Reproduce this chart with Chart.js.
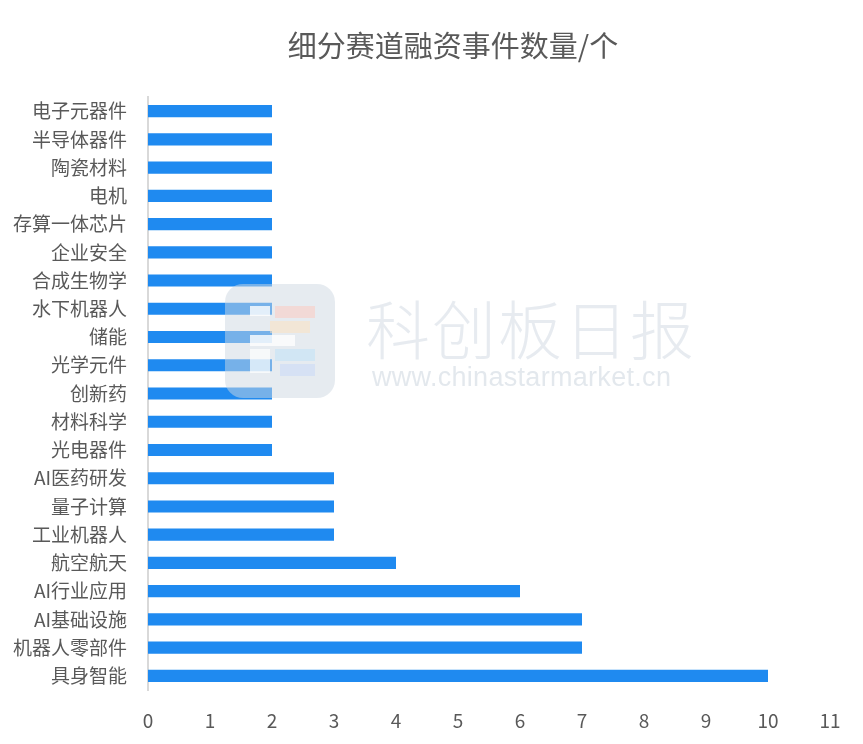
<!DOCTYPE html>
<html>
<head>
<meta charset="utf-8">
<script src="https://cdn.jsdelivr.net/npm/chart.js@4"></script>
<style>
  html, body { margin: 0; padding: 0; background: #fff; }
  #wrap { position: relative; width: 863px; height: 744px; }
  #title {
    position: absolute; left: 0; top: 23px; width: 906px; text-align: center;
    font-family: "Noto Sans CJK SC", sans-serif; font-size: 29px; color: #595959;
  }
  .wm { position: absolute; pointer-events: none; }
  #logo {
    left: 225px; top: 284px; width: 110px; height: 114px; border-radius: 18px;
    background: rgba(205, 215, 225, 0.5);
  }
  .blk { position: absolute; }
  #wmName {
    left: 366px; top: 280px; font-family: "Noto Sans CJK SC", serif; font-weight: 300;
    font-size: 64px; letter-spacing: 2px; color: rgba(215, 222, 230, 0.6);
  }
  #wmUrl {
    left: 372px; top: 362px; font-family: "Liberation Sans", sans-serif;
    font-size: 27px; letter-spacing: 0.3px; color: rgba(215, 222, 230, 0.7);
  }
</style>
</head>
<body>
<div id="wrap">
  <canvas id="chart"></canvas>
  <div id="title">细分赛道融资事件数量/个</div>
  <div class="wm" id="logo">
    <div class="blk" style="left:25px;top:22px;width:20px;height:10px;background:rgba(255,255,255,0.8)"></div>
    <div class="blk" style="left:50px;top:22px;width:40px;height:12px;background:rgba(255,200,190,0.5)"></div>
    <div class="blk" style="left:45px;top:37px;width:40px;height:12px;background:rgba(255,225,190,0.5)"></div>
    <div class="blk" style="left:25px;top:51px;width:45px;height:11px;background:rgba(255,255,255,0.8)"></div>
    <div class="blk" style="left:25px;top:65px;width:20px;height:24px;background:rgba(255,255,255,0.7)"></div>
    <div class="blk" style="left:50px;top:65px;width:40px;height:12px;background:rgba(190,225,250,0.5)"></div>
    <div class="blk" style="left:55px;top:80px;width:35px;height:12px;background:rgba(200,215,250,0.5)"></div>
  </div>
  <div class="wm" id="wmName">科创板日报</div>
  <div class="wm" id="wmUrl">www.chinastarmarket.cn</div>
</div>
<script>
// categories top to bottom, as in the picture
const categories = [
  '电子元器件', '半导体器件', '陶瓷材料', '电机', '存算一体芯片', '企业安全',
  '合成生物学', '水下机器人', '储能', '光学元件', '创新药', '材料科学',
  '光电器件', 'AI医药研发', '量子计算', '工业机器人', '航空航天',
  'AI行业应用', 'AI基础设施', '机器人零部件', '具身智能'
];
const eventCounts = [2, 2, 2, 2, 2, 2, 2, 2, 2, 2, 2, 2, 2, 3, 3, 3, 4, 6, 7, 7, 10];
const xTicks = [0, 1, 2, 3, 4, 5, 6, 7, 8, 9, 10, 11];

const labelFont = { family: '"Liberation Sans Narrow", "Noto Sans CJK SC", sans-serif', size: 19 };

const canvas = document.getElementById('chart');
canvas.width = 863;
canvas.height = 744;

new Chart(canvas.getContext('2d'), {
  type: 'bar',
  data: {
    labels: categories,
    datasets: [{
      label: '融资事件数量',
      data: eventCounts,
      backgroundColor: '#1f8af0',
      barPercentage: 0.43,
      categoryPercentage: 1.0
    }]
  },
  options: {
    indexAxis: 'y',
    responsive: false,
    animation: false,
    layout: { padding: { top: 97, right: 33, left: 0, bottom: 0 } },
    plugins: {
      legend: { display: false },
      tooltip: { enabled: false },
      title: { display: false }
    },
    scales: {
      x: {
        min: xTicks[0],
        max: xTicks[xTicks.length - 1],
        afterBuildTicks: axis => { axis.ticks = xTicks.map(v => ({ value: v })); },
        grid: { display: false },
        border: { display: false },
        ticks: { color: '#595959', font: labelFont, padding: 11 },
        afterFit: axis => { axis.height = 744 - 690; }
      },
      y: {
        grid: { display: false },
        border: { display: true, color: '#d9d9d9', width: 2 },
        ticks: { color: '#595959', font: labelFont, padding: 13, autoSkip: false },
        afterFit: axis => { axis.width = 148; }
      }
    }
  }
});
</script>
</body>
</html>
